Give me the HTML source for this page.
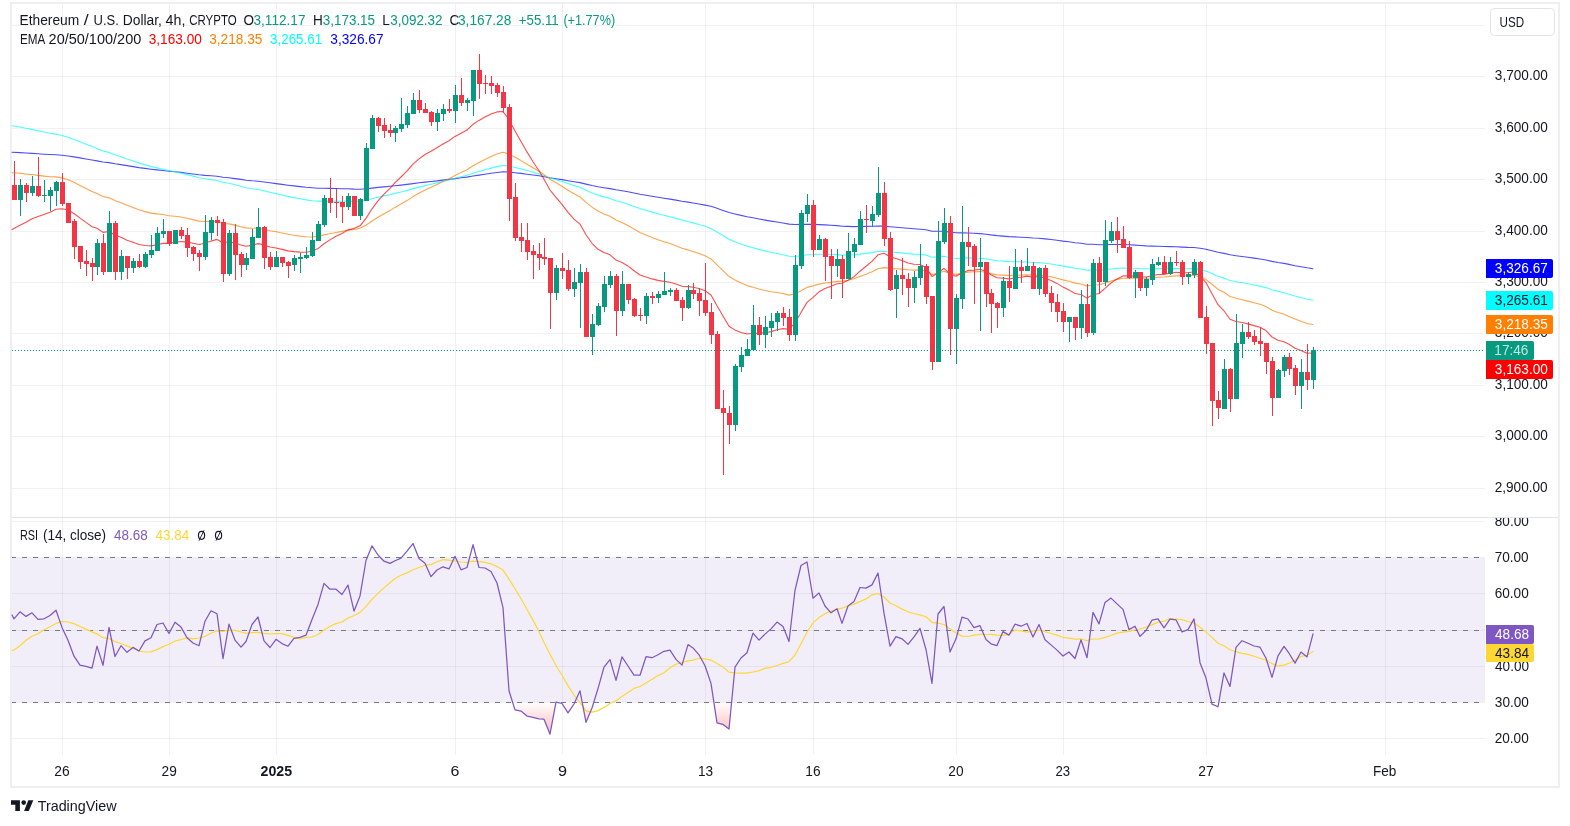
<!DOCTYPE html>
<html><head><meta charset="utf-8"><style>
html,body{margin:0;padding:0;background:#fff;}
body{width:1570px;height:826px;overflow:hidden;position:relative;}
svg{position:absolute;left:0;top:0;font-family:"Liberation Sans", sans-serif;will-change:transform;}
</style></head><body>
<svg width="1570" height="826" viewBox="0 0 1570 826">
<g shape-rendering="crispEdges"><rect x="0" y="0" width="1570" height="826" fill="#fff"/>
<line x1="12" y1="25.5" x2="1485" y2="25.5" stroke="rgba(42,46,57,0.065)" stroke-width="1"/>
<line x1="12" y1="76.5" x2="1485" y2="76.5" stroke="rgba(42,46,57,0.065)" stroke-width="1"/>
<line x1="12" y1="128.5" x2="1485" y2="128.5" stroke="rgba(42,46,57,0.065)" stroke-width="1"/>
<line x1="12" y1="179.5" x2="1485" y2="179.5" stroke="rgba(42,46,57,0.065)" stroke-width="1"/>
<line x1="12" y1="231.5" x2="1485" y2="231.5" stroke="rgba(42,46,57,0.065)" stroke-width="1"/>
<line x1="12" y1="282.5" x2="1485" y2="282.5" stroke="rgba(42,46,57,0.065)" stroke-width="1"/>
<line x1="12" y1="333.5" x2="1485" y2="333.5" stroke="rgba(42,46,57,0.065)" stroke-width="1"/>
<line x1="12" y1="385.5" x2="1485" y2="385.5" stroke="rgba(42,46,57,0.065)" stroke-width="1"/>
<line x1="12" y1="436.5" x2="1485" y2="436.5" stroke="rgba(42,46,57,0.065)" stroke-width="1"/>
<line x1="12" y1="488.5" x2="1485" y2="488.5" stroke="rgba(42,46,57,0.065)" stroke-width="1"/>
<line x1="62.5" y1="4" x2="62.5" y2="755" stroke="rgba(42,46,57,0.065)" stroke-width="1"/>
<line x1="169.5" y1="4" x2="169.5" y2="755" stroke="rgba(42,46,57,0.065)" stroke-width="1"/>
<line x1="276.5" y1="4" x2="276.5" y2="755" stroke="rgba(42,46,57,0.065)" stroke-width="1"/>
<line x1="455.5" y1="4" x2="455.5" y2="755" stroke="rgba(42,46,57,0.065)" stroke-width="1"/>
<line x1="562.5" y1="4" x2="562.5" y2="755" stroke="rgba(42,46,57,0.065)" stroke-width="1"/>
<line x1="705.5" y1="4" x2="705.5" y2="755" stroke="rgba(42,46,57,0.065)" stroke-width="1"/>
<line x1="813.5" y1="4" x2="813.5" y2="755" stroke="rgba(42,46,57,0.065)" stroke-width="1"/>
<line x1="956.5" y1="4" x2="956.5" y2="755" stroke="rgba(42,46,57,0.065)" stroke-width="1"/>
<line x1="1063.5" y1="4" x2="1063.5" y2="755" stroke="rgba(42,46,57,0.065)" stroke-width="1"/>
<line x1="1206.5" y1="4" x2="1206.5" y2="755" stroke="rgba(42,46,57,0.065)" stroke-width="1"/>
<line x1="1385.5" y1="4" x2="1385.5" y2="755" stroke="rgba(42,46,57,0.065)" stroke-width="1"/>
<line x1="12" y1="521.5" x2="1485" y2="521.5" stroke="rgba(42,46,57,0.065)" stroke-width="1"/>
<line x1="12" y1="557.5" x2="1485" y2="557.5" stroke="rgba(42,46,57,0.065)" stroke-width="1"/>
<line x1="12" y1="593.5" x2="1485" y2="593.5" stroke="rgba(42,46,57,0.065)" stroke-width="1"/>
<line x1="12" y1="630.5" x2="1485" y2="630.5" stroke="rgba(42,46,57,0.065)" stroke-width="1"/>
<line x1="12" y1="666.5" x2="1485" y2="666.5" stroke="rgba(42,46,57,0.065)" stroke-width="1"/>
<line x1="12" y1="702.5" x2="1485" y2="702.5" stroke="rgba(42,46,57,0.065)" stroke-width="1"/>
<line x1="12" y1="738.5" x2="1485" y2="738.5" stroke="rgba(42,46,57,0.065)" stroke-width="1"/>
<rect x="12" y="558" width="1473" height="144" fill="#7E57C2" fill-opacity="0.1"/>
<line x1="11" y1="557.5" x2="1485" y2="557.5" stroke="#787B86" stroke-width="1" stroke-dasharray="5 6"/>
<line x1="11" y1="630.5" x2="1485" y2="630.5" stroke="#787B86" stroke-width="1" stroke-dasharray="5 6"/>
<line x1="11" y1="702.5" x2="1485" y2="702.5" stroke="#787B86" stroke-width="1" stroke-dasharray="5 6"/>
<line x1="12" y1="517.5" x2="1558" y2="517.5" stroke="#E0E3EB" stroke-width="1"/>
<rect x="11" y="3" width="1548" height="784" fill="none" stroke="#EDEFF3" stroke-width="2"/></g>
<polyline points="12.0,152.3 20.0,152.6 26.0,153.0 32.0,153.4 38.0,153.8 44.0,154.2 50.0,154.5 56.0,154.8 62.0,155.3 68.0,156.0 74.0,156.9 80.0,157.9 86.0,159.0 92.0,160.0 97.0,160.9 103.0,162.0 109.0,162.6 115.0,163.7 121.0,164.6 127.0,165.6 133.0,166.6 139.0,167.6 145.0,168.4 151.0,169.2 157.0,169.9 163.0,170.5 169.0,171.2 175.0,171.8 181.0,172.4 187.0,173.2 193.0,174.0 199.0,174.8 205.0,175.4 211.0,175.8 217.0,176.3 223.0,177.3 229.0,177.8 235.0,178.6 241.0,179.4 246.0,180.2 252.0,180.8 258.0,181.2 264.0,182.0 270.0,182.8 276.0,183.6 282.0,184.4 288.0,185.2 294.0,185.9 300.0,186.6 306.0,187.3 312.0,187.8 318.0,188.2 324.0,188.3 330.0,188.4 336.0,188.5 342.0,188.7 348.0,188.8 354.0,189.1 360.0,189.2 366.0,188.8 372.0,188.1 378.0,187.4 384.0,186.9 390.0,186.3 395.0,185.8 401.0,185.1 407.0,184.4 413.0,183.6 419.0,182.8 425.0,182.1 431.0,181.5 437.0,180.9 443.0,180.1 449.0,179.4 455.0,178.6 461.0,177.8 467.0,177.1 473.0,176.0 479.0,175.1 485.0,174.2 491.0,173.3 497.0,172.5 503.0,171.8 509.0,172.1 515.0,172.8 521.0,173.4 527.0,174.2 533.0,175.0 539.0,175.8 544.0,176.7 550.0,177.8 556.0,178.7 562.0,179.6 568.0,180.7 574.0,181.7 580.0,182.6 586.0,184.1 592.0,185.5 598.0,186.7 604.0,187.7 610.0,188.6 616.0,189.8 622.0,190.7 628.0,191.8 634.0,193.0 640.0,194.3 646.0,195.3 652.0,196.3 658.0,197.3 664.0,198.2 670.0,199.1 676.0,200.1 682.0,201.2 688.0,202.1 693.0,203.0 699.0,204.0 705.0,205.1 711.0,206.3 717.0,208.3 723.0,210.4 729.0,212.5 735.0,214.0 741.0,215.4 747.0,216.8 753.0,217.8 759.0,219.0 765.0,220.1 771.0,221.1 777.0,222.0 783.0,223.0 789.0,224.1 795.0,224.5 801.0,224.4 807.0,224.2 813.0,224.4 819.0,224.6 825.0,224.9 831.0,225.3 837.0,225.6 842.0,226.2 848.0,226.4 854.0,226.6 860.0,226.5 866.0,226.4 872.0,226.3 878.0,226.0 884.0,226.1 890.0,226.7 896.0,227.2 902.0,227.7 908.0,228.3 914.0,228.8 920.0,229.2 926.0,229.8 932.0,231.2 938.0,231.3 944.0,231.2 950.0,232.1 956.0,232.8 962.0,232.9 968.0,233.0 974.0,233.3 980.0,233.6 986.0,234.2 991.0,234.9 997.0,235.6 1003.0,236.1 1009.0,236.6 1015.0,236.9 1021.0,237.2 1027.0,237.5 1033.0,238.0 1039.0,238.3 1045.0,238.9 1051.0,239.5 1057.0,240.2 1063.0,241.1 1069.0,241.8 1075.0,242.7 1081.0,243.3 1087.0,244.2 1093.0,244.3 1099.0,244.7 1105.0,244.7 1111.0,244.5 1117.0,244.5 1123.0,244.5 1129.0,244.8 1135.0,245.1 1140.0,245.5 1146.0,245.9 1152.0,246.1 1158.0,246.2 1164.0,246.5 1170.0,246.6 1176.0,246.8 1182.0,247.1 1188.0,247.4 1194.0,247.5 1200.0,248.2 1206.0,249.2 1212.0,250.7 1218.0,252.2 1224.0,253.4 1230.0,254.8 1236.0,255.7 1242.0,256.5 1248.0,257.3 1254.0,258.1 1260.0,259.0 1266.0,260.0 1272.0,261.4 1278.0,262.5 1284.0,263.4 1289.0,264.4 1295.0,265.7 1301.0,266.7 1307.0,267.8 1313.0,268.7" fill="none" stroke="#0000FF" stroke-opacity="0.7" stroke-width="1.1" stroke-linejoin="round" stroke-linecap="round"/>
<polyline points="12.0,125.8 20.0,127.0 26.0,128.3 32.0,129.4 38.0,130.7 44.0,132.0 50.0,133.2 56.0,134.1 62.0,135.5 68.0,137.2 74.0,139.4 80.0,141.8 86.0,144.2 92.0,146.6 97.0,148.5 103.0,151.0 109.0,152.4 115.0,154.8 121.0,156.8 127.0,159.0 133.0,161.0 139.0,163.1 145.0,164.9 151.0,166.6 157.0,167.9 163.0,169.2 169.0,170.6 175.0,171.8 181.0,173.1 187.0,174.6 193.0,176.1 199.0,177.7 205.0,178.8 211.0,179.6 217.0,180.5 223.0,182.3 229.0,183.3 235.0,184.7 241.0,186.3 246.0,187.7 252.0,188.7 258.0,189.5 264.0,190.8 270.0,192.3 276.0,193.6 282.0,195.0 288.0,196.4 294.0,197.6 300.0,198.8 306.0,199.9 312.0,200.7 318.0,201.1 324.0,201.1 330.0,201.1 336.0,201.1 342.0,201.2 348.0,201.1 354.0,201.4 360.0,201.4 366.0,200.3 372.0,198.7 378.0,197.3 384.0,195.9 390.0,194.7 395.0,193.4 401.0,192.0 407.0,190.4 413.0,188.6 419.0,187.1 425.0,185.6 431.0,184.3 437.0,182.9 443.0,181.4 449.0,180.0 455.0,178.3 461.0,176.8 467.0,175.3 473.0,173.2 479.0,171.5 485.0,169.7 491.0,168.1 497.0,166.6 503.0,165.4 509.0,166.0 515.0,167.5 521.0,168.9 527.0,170.5 533.0,172.2 539.0,173.9 544.0,175.6 550.0,177.9 556.0,179.7 562.0,181.5 568.0,183.6 574.0,185.6 580.0,187.3 586.0,190.2 592.0,192.9 598.0,195.1 604.0,196.9 610.0,198.4 616.0,200.7 622.0,202.3 628.0,204.2 634.0,206.4 640.0,208.6 646.0,210.3 652.0,212.1 658.0,213.7 664.0,215.2 670.0,216.7 676.0,218.4 682.0,220.1 688.0,221.5 693.0,222.9 699.0,224.5 705.0,226.2 711.0,228.4 717.0,231.9 723.0,235.5 729.0,239.3 735.0,241.8 741.0,244.0 747.0,246.1 753.0,247.7 759.0,249.4 765.0,250.9 771.0,252.3 777.0,253.5 783.0,254.8 789.0,256.3 795.0,256.5 801.0,255.7 807.0,254.7 813.0,254.6 819.0,254.3 825.0,254.3 831.0,254.5 837.0,254.6 842.0,255.1 848.0,255.0 854.0,254.8 860.0,254.1 866.0,253.4 872.0,252.6 878.0,251.5 884.0,251.2 890.0,252.0 896.0,252.4 902.0,252.9 908.0,253.6 914.0,254.1 920.0,254.3 926.0,255.1 932.0,257.2 938.0,256.9 944.0,256.2 950.0,257.7 956.0,258.5 962.0,258.1 968.0,257.9 974.0,258.1 980.0,258.2 986.0,258.9 991.0,259.7 997.0,260.7 1003.0,261.1 1009.0,261.6 1015.0,261.7 1021.0,261.9 1027.0,262.0 1033.0,262.5 1039.0,262.6 1045.0,263.2 1051.0,264.0 1057.0,265.0 1063.0,266.1 1069.0,267.1 1075.0,268.3 1081.0,269.0 1087.0,270.3 1093.0,270.1 1099.0,270.3 1105.0,269.7 1111.0,269.0 1117.0,268.4 1123.0,268.0 1129.0,268.2 1135.0,268.3 1140.0,268.6 1146.0,268.8 1152.0,268.8 1158.0,268.6 1164.0,268.7 1170.0,268.6 1176.0,268.5 1182.0,268.6 1188.0,268.7 1194.0,268.6 1200.0,269.6 1206.0,271.1 1212.0,273.6 1218.0,276.3 1224.0,278.1 1230.0,280.5 1236.0,281.7 1242.0,282.7 1248.0,283.8 1254.0,285.0 1260.0,286.1 1266.0,287.6 1272.0,289.8 1278.0,291.4 1284.0,292.7 1289.0,294.2 1295.0,296.0 1301.0,297.5 1307.0,299.2 1313.0,300.2" fill="none" stroke="#00FFFF" stroke-opacity="0.7" stroke-width="1.1" stroke-linejoin="round" stroke-linecap="round"/>
<polyline points="12.0,172.8 20.0,173.3 26.0,174.1 32.0,174.5 38.0,175.4 44.0,176.1 50.0,176.7 56.0,176.9 62.0,177.9 68.0,179.7 74.0,182.3 80.0,185.4 86.0,188.5 92.0,191.5 97.0,193.6 103.0,196.6 109.0,197.7 115.0,200.6 121.0,202.7 127.0,205.3 133.0,207.5 139.0,209.8 145.0,211.6 151.0,213.1 157.0,213.9 163.0,214.5 169.0,215.7 175.0,216.2 181.0,217.0 187.0,218.2 193.0,219.6 199.0,221.1 205.0,221.5 211.0,221.4 217.0,221.5 223.0,223.5 229.0,223.9 235.0,225.1 241.0,226.7 246.0,227.9 252.0,228.3 258.0,228.2 264.0,229.3 270.0,230.8 276.0,231.8 282.0,233.0 288.0,234.3 294.0,235.2 300.0,236.1 306.0,236.8 312.0,237.0 318.0,236.4 324.0,234.9 330.0,233.7 336.0,232.5 342.0,231.4 348.0,230.1 354.0,229.5 360.0,228.3 366.0,225.2 372.0,221.0 378.0,217.2 384.0,213.8 390.0,210.6 395.0,207.4 401.0,204.1 407.0,200.6 413.0,196.6 419.0,193.2 425.0,190.0 431.0,187.3 437.0,184.4 443.0,181.5 449.0,178.7 455.0,175.4 461.0,172.5 467.0,169.7 473.0,165.8 479.0,162.5 485.0,159.5 491.0,156.6 497.0,154.1 503.0,152.2 509.0,154.0 515.0,157.3 521.0,160.6 527.0,164.2 533.0,167.7 539.0,171.2 544.0,174.6 550.0,179.3 556.0,182.7 562.0,186.2 568.0,190.2 574.0,193.8 580.0,196.9 586.0,202.4 592.0,207.1 598.0,211.0 604.0,213.9 610.0,216.3 616.0,220.0 622.0,222.5 628.0,225.5 634.0,229.1 640.0,232.5 646.0,235.0 652.0,237.4 658.0,239.7 664.0,241.7 670.0,243.6 676.0,245.8 682.0,248.2 688.0,249.9 693.0,251.6 699.0,253.5 705.0,255.8 711.0,258.9 717.0,264.8 723.0,270.6 729.0,276.6 735.0,280.1 741.0,283.1 747.0,285.6 753.0,287.2 759.0,289.0 765.0,290.5 771.0,291.7 777.0,292.5 783.0,293.5 789.0,295.1 795.0,293.9 801.0,290.8 807.0,287.4 813.0,285.9 819.0,284.1 825.0,283.0 831.0,282.4 837.0,281.4 842.0,281.3 848.0,280.2 854.0,278.7 860.0,276.4 866.0,274.2 872.0,271.8 878.0,268.7 884.0,267.6 890.0,268.4 896.0,268.7 902.0,269.1 908.0,269.8 914.0,270.1 920.0,269.9 926.0,270.9 932.0,274.5 938.0,273.2 944.0,271.2 950.0,273.4 956.0,274.4 962.0,273.1 968.0,272.1 974.0,271.8 980.0,271.5 986.0,272.3 991.0,273.6 997.0,274.9 1003.0,275.1 1009.0,275.6 1015.0,275.3 1021.0,275.1 1027.0,274.7 1033.0,275.3 1039.0,275.0 1045.0,275.7 1051.0,276.8 1057.0,278.2 1063.0,279.9 1069.0,281.3 1075.0,283.1 1081.0,284.0 1087.0,285.9 1093.0,285.0 1099.0,284.8 1105.0,283.1 1111.0,281.0 1117.0,279.4 1123.0,278.2 1129.0,278.1 1135.0,277.9 1140.0,278.3 1146.0,278.3 1152.0,277.8 1158.0,277.2 1164.0,277.0 1170.0,276.4 1176.0,275.9 1182.0,275.9 1188.0,275.9 1194.0,275.3 1200.0,277.0 1206.0,279.6 1212.0,284.3 1218.0,289.2 1224.0,292.3 1230.0,296.5 1236.0,298.3 1242.0,299.7 1248.0,301.1 1254.0,302.7 1260.0,304.3 1266.0,306.6 1272.0,310.2 1278.0,312.5 1284.0,314.3 1289.0,316.4 1295.0,319.1 1301.0,321.2 1307.0,323.5 1313.0,324.5" fill="none" stroke="#FF7F00" stroke-opacity="0.7" stroke-width="1.1" stroke-linejoin="round" stroke-linecap="round"/>
<polyline points="12.0,229.5 20.0,225.3 26.0,222.2 32.0,218.7 38.0,216.6 44.0,214.5 50.0,212.2 56.0,209.3 62.0,208.8 68.0,210.0 74.0,213.5 80.0,218.1 86.0,222.4 92.0,226.7 97.0,228.2 103.0,232.4 109.0,231.5 115.0,235.3 121.0,237.3 127.0,240.2 133.0,242.2 139.0,244.5 145.0,245.5 151.0,245.9 157.0,244.7 163.0,243.4 169.0,243.4 175.0,242.2 181.0,241.5 187.0,242.1 193.0,243.2 199.0,244.5 205.0,243.3 211.0,241.1 217.0,239.4 223.0,242.7 229.0,241.7 235.0,243.0 241.0,245.0 246.0,246.3 252.0,245.4 258.0,243.6 264.0,244.9 270.0,247.0 276.0,248.0 282.0,249.4 288.0,250.9 294.0,251.6 300.0,252.1 306.0,252.3 312.0,251.2 318.0,248.6 324.0,243.8 330.0,239.9 336.0,236.3 342.0,233.5 348.0,229.9 354.0,228.6 360.0,225.8 366.0,218.4 372.0,208.8 378.0,200.9 384.0,194.2 390.0,188.3 395.0,182.6 401.0,177.0 407.0,170.9 413.0,164.1 419.0,158.9 425.0,154.5 431.0,151.3 437.0,147.7 443.0,144.0 449.0,140.8 455.0,136.4 461.0,133.2 467.0,130.0 473.0,124.3 479.0,120.4 485.0,117.0 491.0,114.0 497.0,111.9 503.0,111.5 509.0,119.8 515.0,131.0 521.0,141.4 527.0,151.9 533.0,161.7 539.0,170.8 544.0,179.2 550.0,190.0 556.0,197.4 562.0,204.4 568.0,212.4 574.0,219.1 580.0,224.1 586.0,234.8 592.0,243.3 598.0,249.3 604.0,252.6 610.0,254.8 616.0,260.1 622.0,262.4 628.0,265.9 634.0,270.7 640.0,275.0 646.0,277.0 652.0,278.9 658.0,280.4 664.0,281.4 670.0,282.2 676.0,284.0 682.0,286.2 688.0,286.6 693.0,287.3 699.0,288.5 705.0,290.8 711.0,295.0 717.0,305.8 723.0,316.0 729.0,326.3 735.0,330.1 741.0,332.5 747.0,334.0 753.0,333.2 759.0,333.3 765.0,332.7 771.0,331.6 777.0,329.8 783.0,328.6 789.0,329.2 795.0,323.1 801.0,312.6 807.0,302.4 813.0,297.3 819.0,291.8 825.0,288.4 831.0,286.3 837.0,283.7 842.0,283.2 848.0,280.2 854.0,276.7 860.0,271.2 866.0,266.3 872.0,261.4 878.0,254.8 884.0,253.3 890.0,256.7 896.0,258.5 902.0,260.4 908.0,263.0 914.0,264.3 920.0,264.5 926.0,267.5 932.0,276.4 938.0,273.0 944.0,268.3 950.0,274.0 956.0,276.3 962.0,273.0 968.0,270.4 974.0,270.1 980.0,269.3 986.0,271.6 991.0,274.7 997.0,277.8 1003.0,278.1 1009.0,279.0 1015.0,277.9 1021.0,277.2 1027.0,276.1 1033.0,277.3 1039.0,276.4 1045.0,278.0 1051.0,280.4 1057.0,283.4 1063.0,287.1 1069.0,289.9 1075.0,293.5 1081.0,294.5 1087.0,298.1 1093.0,294.8 1099.0,293.5 1105.0,288.4 1111.0,283.0 1117.0,278.9 1123.0,275.9 1129.0,276.0 1135.0,275.7 1140.0,276.8 1146.0,277.0 1152.0,275.8 1158.0,274.5 1164.0,274.4 1170.0,273.2 1176.0,272.3 1182.0,272.7 1188.0,272.8 1194.0,271.8 1200.0,276.2 1206.0,282.6 1212.0,293.8 1218.0,304.7 1224.0,310.8 1230.0,319.2 1236.0,321.5 1242.0,322.5 1248.0,323.9 1254.0,325.6 1260.0,327.3 1266.0,330.6 1272.0,337.0 1278.0,340.2 1284.0,341.8 1289.0,344.3 1295.0,348.3 1301.0,350.5 1307.0,353.3 1313.0,353.0" fill="none" stroke="#FF0000" stroke-opacity="0.7" stroke-width="1.1" stroke-linejoin="round" stroke-linecap="round"/>
<g shape-rendering="crispEdges"><rect x="14" y="161" width="1" height="39" fill="#F23645"/>
<rect x="12" y="185" width="5" height="15" fill="#F23645"/>
<rect x="20" y="179" width="1" height="37" fill="#089981"/>
<rect x="18" y="185" width="5" height="15" fill="#089981"/>
<rect x="26" y="183" width="1" height="19" fill="#F23645"/>
<rect x="24" y="185" width="5" height="8" fill="#F23645"/>
<rect x="32" y="176" width="1" height="20" fill="#089981"/>
<rect x="30" y="186" width="5" height="7" fill="#089981"/>
<rect x="38" y="157" width="1" height="40" fill="#F23645"/>
<rect x="36" y="186" width="5" height="10" fill="#F23645"/>
<rect x="44" y="180" width="1" height="22" fill="#089981"/>
<rect x="42" y="195" width="5" height="1" fill="#089981"/>
<rect x="50" y="187" width="1" height="24" fill="#089981"/>
<rect x="48" y="190" width="5" height="6" fill="#089981"/>
<rect x="56" y="181" width="1" height="25" fill="#089981"/>
<rect x="54" y="182" width="5" height="9" fill="#089981"/>
<rect x="62" y="173" width="1" height="33" fill="#F23645"/>
<rect x="60" y="182" width="5" height="22" fill="#F23645"/>
<rect x="68" y="203" width="1" height="20" fill="#F23645"/>
<rect x="66" y="203" width="5" height="20" fill="#F23645"/>
<rect x="74" y="219" width="1" height="40" fill="#F23645"/>
<rect x="72" y="221" width="5" height="26" fill="#F23645"/>
<rect x="80" y="246" width="1" height="23" fill="#F23645"/>
<rect x="78" y="246" width="5" height="16" fill="#F23645"/>
<rect x="86" y="250" width="1" height="26" fill="#F23645"/>
<rect x="84" y="261" width="5" height="3" fill="#F23645"/>
<rect x="92" y="258" width="1" height="23" fill="#F23645"/>
<rect x="90" y="263" width="5" height="4" fill="#F23645"/>
<rect x="97" y="239" width="1" height="36" fill="#089981"/>
<rect x="95" y="243" width="5" height="24" fill="#089981"/>
<rect x="103" y="234" width="1" height="41" fill="#F23645"/>
<rect x="101" y="243" width="5" height="29" fill="#F23645"/>
<rect x="109" y="211" width="1" height="61" fill="#089981"/>
<rect x="107" y="223" width="5" height="49" fill="#089981"/>
<rect x="115" y="221" width="1" height="59" fill="#F23645"/>
<rect x="113" y="223" width="5" height="49" fill="#F23645"/>
<rect x="121" y="250" width="1" height="30" fill="#089981"/>
<rect x="119" y="256" width="5" height="16" fill="#089981"/>
<rect x="127" y="256" width="1" height="23" fill="#F23645"/>
<rect x="125" y="256" width="5" height="12" fill="#F23645"/>
<rect x="133" y="258" width="1" height="15" fill="#089981"/>
<rect x="131" y="261" width="5" height="7" fill="#089981"/>
<rect x="139" y="254" width="1" height="14" fill="#F23645"/>
<rect x="137" y="261" width="5" height="6" fill="#F23645"/>
<rect x="145" y="252" width="1" height="16" fill="#089981"/>
<rect x="143" y="254" width="5" height="13" fill="#089981"/>
<rect x="151" y="235" width="1" height="23" fill="#089981"/>
<rect x="149" y="250" width="5" height="5" fill="#089981"/>
<rect x="157" y="227" width="1" height="24" fill="#089981"/>
<rect x="155" y="233" width="5" height="18" fill="#089981"/>
<rect x="163" y="219" width="1" height="19" fill="#089981"/>
<rect x="161" y="231" width="5" height="3" fill="#089981"/>
<rect x="169" y="231" width="1" height="15" fill="#F23645"/>
<rect x="167" y="231" width="5" height="13" fill="#F23645"/>
<rect x="175" y="230" width="1" height="14" fill="#089981"/>
<rect x="173" y="230" width="5" height="14" fill="#089981"/>
<rect x="181" y="227" width="1" height="12" fill="#F23645"/>
<rect x="179" y="230" width="5" height="6" fill="#F23645"/>
<rect x="187" y="228" width="1" height="29" fill="#F23645"/>
<rect x="185" y="235" width="5" height="13" fill="#F23645"/>
<rect x="193" y="246" width="1" height="15" fill="#F23645"/>
<rect x="191" y="247" width="5" height="7" fill="#F23645"/>
<rect x="199" y="250" width="1" height="21" fill="#F23645"/>
<rect x="197" y="253" width="5" height="4" fill="#F23645"/>
<rect x="205" y="215" width="1" height="45" fill="#089981"/>
<rect x="203" y="232" width="5" height="25" fill="#089981"/>
<rect x="211" y="217" width="1" height="23" fill="#089981"/>
<rect x="209" y="220" width="5" height="13" fill="#089981"/>
<rect x="217" y="216" width="1" height="20" fill="#F23645"/>
<rect x="215" y="220" width="5" height="3" fill="#F23645"/>
<rect x="223" y="219" width="1" height="63" fill="#F23645"/>
<rect x="221" y="222" width="5" height="52" fill="#F23645"/>
<rect x="229" y="230" width="1" height="46" fill="#089981"/>
<rect x="227" y="233" width="5" height="41" fill="#089981"/>
<rect x="235" y="224" width="1" height="56" fill="#F23645"/>
<rect x="233" y="233" width="5" height="22" fill="#F23645"/>
<rect x="241" y="252" width="1" height="25" fill="#F23645"/>
<rect x="239" y="254" width="5" height="11" fill="#F23645"/>
<rect x="246" y="253" width="1" height="17" fill="#089981"/>
<rect x="244" y="258" width="5" height="7" fill="#089981"/>
<rect x="252" y="229" width="1" height="30" fill="#089981"/>
<rect x="250" y="237" width="5" height="22" fill="#089981"/>
<rect x="258" y="208" width="1" height="30" fill="#089981"/>
<rect x="256" y="227" width="5" height="11" fill="#089981"/>
<rect x="264" y="226" width="1" height="43" fill="#F23645"/>
<rect x="262" y="227" width="5" height="31" fill="#F23645"/>
<rect x="270" y="252" width="1" height="18" fill="#F23645"/>
<rect x="268" y="257" width="5" height="10" fill="#F23645"/>
<rect x="276" y="251" width="1" height="16" fill="#089981"/>
<rect x="274" y="257" width="5" height="10" fill="#089981"/>
<rect x="282" y="257" width="1" height="10" fill="#F23645"/>
<rect x="280" y="257" width="5" height="6" fill="#F23645"/>
<rect x="288" y="261" width="1" height="17" fill="#F23645"/>
<rect x="286" y="262" width="5" height="4" fill="#F23645"/>
<rect x="294" y="255" width="1" height="16" fill="#089981"/>
<rect x="292" y="258" width="5" height="7" fill="#089981"/>
<rect x="300" y="253" width="1" height="20" fill="#089981"/>
<rect x="298" y="257" width="5" height="2" fill="#089981"/>
<rect x="306" y="247" width="1" height="12" fill="#089981"/>
<rect x="304" y="255" width="5" height="3" fill="#089981"/>
<rect x="312" y="232" width="1" height="25" fill="#089981"/>
<rect x="310" y="240" width="5" height="16" fill="#089981"/>
<rect x="318" y="221" width="1" height="20" fill="#089981"/>
<rect x="316" y="224" width="5" height="17" fill="#089981"/>
<rect x="324" y="195" width="1" height="32" fill="#089981"/>
<rect x="322" y="198" width="5" height="27" fill="#089981"/>
<rect x="330" y="178" width="1" height="35" fill="#F23645"/>
<rect x="328" y="198" width="5" height="5" fill="#F23645"/>
<rect x="336" y="189" width="1" height="29" fill="#F23645"/>
<rect x="334" y="202" width="5" height="1" fill="#F23645"/>
<rect x="342" y="196" width="1" height="27" fill="#F23645"/>
<rect x="340" y="202" width="5" height="5" fill="#F23645"/>
<rect x="348" y="193" width="1" height="17" fill="#089981"/>
<rect x="346" y="196" width="5" height="11" fill="#089981"/>
<rect x="354" y="196" width="1" height="20" fill="#F23645"/>
<rect x="352" y="196" width="5" height="20" fill="#F23645"/>
<rect x="360" y="198" width="1" height="22" fill="#089981"/>
<rect x="358" y="199" width="5" height="17" fill="#089981"/>
<rect x="366" y="143" width="1" height="58" fill="#089981"/>
<rect x="364" y="148" width="5" height="53" fill="#089981"/>
<rect x="372" y="115" width="1" height="34" fill="#089981"/>
<rect x="370" y="118" width="5" height="31" fill="#089981"/>
<rect x="378" y="117" width="1" height="15" fill="#F23645"/>
<rect x="376" y="118" width="5" height="8" fill="#F23645"/>
<rect x="384" y="118" width="1" height="20" fill="#F23645"/>
<rect x="382" y="125" width="5" height="6" fill="#F23645"/>
<rect x="390" y="124" width="1" height="13" fill="#F23645"/>
<rect x="388" y="130" width="5" height="3" fill="#F23645"/>
<rect x="395" y="126" width="1" height="16" fill="#089981"/>
<rect x="393" y="128" width="5" height="5" fill="#089981"/>
<rect x="401" y="98" width="1" height="34" fill="#089981"/>
<rect x="399" y="124" width="5" height="5" fill="#089981"/>
<rect x="407" y="106" width="1" height="22" fill="#089981"/>
<rect x="405" y="113" width="5" height="12" fill="#089981"/>
<rect x="413" y="93" width="1" height="21" fill="#089981"/>
<rect x="411" y="100" width="5" height="14" fill="#089981"/>
<rect x="419" y="90" width="1" height="23" fill="#F23645"/>
<rect x="417" y="100" width="5" height="10" fill="#F23645"/>
<rect x="425" y="103" width="1" height="10" fill="#F23645"/>
<rect x="423" y="109" width="5" height="4" fill="#F23645"/>
<rect x="431" y="111" width="1" height="15" fill="#F23645"/>
<rect x="429" y="112" width="5" height="10" fill="#F23645"/>
<rect x="437" y="109" width="1" height="22" fill="#089981"/>
<rect x="435" y="113" width="5" height="9" fill="#089981"/>
<rect x="443" y="104" width="1" height="17" fill="#089981"/>
<rect x="441" y="109" width="5" height="5" fill="#089981"/>
<rect x="449" y="99" width="1" height="14" fill="#F23645"/>
<rect x="447" y="109" width="5" height="2" fill="#F23645"/>
<rect x="455" y="85" width="1" height="38" fill="#089981"/>
<rect x="453" y="95" width="5" height="16" fill="#089981"/>
<rect x="461" y="78" width="1" height="28" fill="#F23645"/>
<rect x="459" y="95" width="5" height="8" fill="#F23645"/>
<rect x="467" y="98" width="1" height="13" fill="#089981"/>
<rect x="465" y="100" width="5" height="3" fill="#089981"/>
<rect x="473" y="70" width="1" height="46" fill="#089981"/>
<rect x="471" y="70" width="5" height="31" fill="#089981"/>
<rect x="479" y="54" width="1" height="45" fill="#F23645"/>
<rect x="477" y="70" width="5" height="14" fill="#F23645"/>
<rect x="485" y="75" width="1" height="19" fill="#F23645"/>
<rect x="483" y="83" width="5" height="1" fill="#F23645"/>
<rect x="491" y="76" width="1" height="18" fill="#F23645"/>
<rect x="489" y="83" width="5" height="3" fill="#F23645"/>
<rect x="497" y="83" width="1" height="14" fill="#F23645"/>
<rect x="495" y="85" width="5" height="8" fill="#F23645"/>
<rect x="503" y="86" width="1" height="27" fill="#F23645"/>
<rect x="501" y="92" width="5" height="16" fill="#F23645"/>
<rect x="509" y="104" width="1" height="117" fill="#F23645"/>
<rect x="507" y="107" width="5" height="92" fill="#F23645"/>
<rect x="515" y="183" width="1" height="58" fill="#F23645"/>
<rect x="513" y="197" width="5" height="41" fill="#F23645"/>
<rect x="521" y="223" width="1" height="29" fill="#F23645"/>
<rect x="519" y="237" width="5" height="4" fill="#F23645"/>
<rect x="527" y="223" width="1" height="37" fill="#F23645"/>
<rect x="525" y="240" width="5" height="12" fill="#F23645"/>
<rect x="533" y="245" width="1" height="34" fill="#F23645"/>
<rect x="531" y="251" width="5" height="4" fill="#F23645"/>
<rect x="539" y="243" width="1" height="27" fill="#F23645"/>
<rect x="537" y="254" width="5" height="4" fill="#F23645"/>
<rect x="544" y="238" width="1" height="27" fill="#F23645"/>
<rect x="542" y="257" width="5" height="2" fill="#F23645"/>
<rect x="550" y="258" width="1" height="71" fill="#F23645"/>
<rect x="548" y="258" width="5" height="35" fill="#F23645"/>
<rect x="556" y="265" width="1" height="35" fill="#089981"/>
<rect x="554" y="268" width="5" height="25" fill="#089981"/>
<rect x="562" y="253" width="1" height="26" fill="#F23645"/>
<rect x="560" y="268" width="5" height="3" fill="#F23645"/>
<rect x="568" y="260" width="1" height="31" fill="#F23645"/>
<rect x="566" y="270" width="5" height="19" fill="#F23645"/>
<rect x="574" y="268" width="1" height="29" fill="#089981"/>
<rect x="572" y="282" width="5" height="7" fill="#089981"/>
<rect x="580" y="264" width="1" height="64" fill="#089981"/>
<rect x="578" y="272" width="5" height="11" fill="#089981"/>
<rect x="586" y="268" width="1" height="69" fill="#F23645"/>
<rect x="584" y="272" width="5" height="65" fill="#F23645"/>
<rect x="592" y="314" width="1" height="41" fill="#089981"/>
<rect x="590" y="324" width="5" height="13" fill="#089981"/>
<rect x="598" y="303" width="1" height="23" fill="#089981"/>
<rect x="596" y="306" width="5" height="19" fill="#089981"/>
<rect x="604" y="276" width="1" height="36" fill="#089981"/>
<rect x="602" y="284" width="5" height="23" fill="#089981"/>
<rect x="610" y="271" width="1" height="17" fill="#089981"/>
<rect x="608" y="276" width="5" height="9" fill="#089981"/>
<rect x="616" y="274" width="1" height="62" fill="#F23645"/>
<rect x="614" y="276" width="5" height="35" fill="#F23645"/>
<rect x="622" y="271" width="1" height="45" fill="#089981"/>
<rect x="620" y="284" width="5" height="27" fill="#089981"/>
<rect x="628" y="284" width="1" height="20" fill="#F23645"/>
<rect x="626" y="284" width="5" height="16" fill="#F23645"/>
<rect x="634" y="298" width="1" height="19" fill="#F23645"/>
<rect x="632" y="299" width="5" height="17" fill="#F23645"/>
<rect x="640" y="308" width="1" height="13" fill="#F23645"/>
<rect x="638" y="315" width="5" height="1" fill="#F23645"/>
<rect x="646" y="293" width="1" height="31" fill="#089981"/>
<rect x="644" y="296" width="5" height="20" fill="#089981"/>
<rect x="652" y="292" width="1" height="12" fill="#F23645"/>
<rect x="650" y="296" width="5" height="2" fill="#F23645"/>
<rect x="658" y="291" width="1" height="12" fill="#089981"/>
<rect x="656" y="294" width="5" height="4" fill="#089981"/>
<rect x="664" y="272" width="1" height="23" fill="#089981"/>
<rect x="662" y="291" width="5" height="4" fill="#089981"/>
<rect x="670" y="288" width="1" height="8" fill="#089981"/>
<rect x="668" y="290" width="5" height="2" fill="#089981"/>
<rect x="676" y="288" width="1" height="13" fill="#F23645"/>
<rect x="674" y="290" width="5" height="11" fill="#F23645"/>
<rect x="682" y="297" width="1" height="24" fill="#F23645"/>
<rect x="680" y="300" width="5" height="8" fill="#F23645"/>
<rect x="688" y="285" width="1" height="24" fill="#089981"/>
<rect x="686" y="290" width="5" height="18" fill="#089981"/>
<rect x="693" y="283" width="1" height="16" fill="#F23645"/>
<rect x="691" y="290" width="5" height="4" fill="#F23645"/>
<rect x="699" y="288" width="1" height="28" fill="#F23645"/>
<rect x="697" y="293" width="5" height="8" fill="#F23645"/>
<rect x="705" y="263" width="1" height="53" fill="#F23645"/>
<rect x="703" y="300" width="5" height="13" fill="#F23645"/>
<rect x="711" y="303" width="1" height="41" fill="#F23645"/>
<rect x="709" y="312" width="5" height="23" fill="#F23645"/>
<rect x="717" y="331" width="1" height="78" fill="#F23645"/>
<rect x="715" y="334" width="5" height="75" fill="#F23645"/>
<rect x="723" y="390" width="1" height="85" fill="#F23645"/>
<rect x="721" y="408" width="5" height="5" fill="#F23645"/>
<rect x="729" y="406" width="1" height="38" fill="#F23645"/>
<rect x="727" y="413" width="5" height="12" fill="#F23645"/>
<rect x="735" y="364" width="1" height="67" fill="#089981"/>
<rect x="733" y="366" width="5" height="59" fill="#089981"/>
<rect x="741" y="347" width="1" height="25" fill="#089981"/>
<rect x="739" y="355" width="5" height="12" fill="#089981"/>
<rect x="747" y="339" width="1" height="17" fill="#089981"/>
<rect x="745" y="349" width="5" height="7" fill="#089981"/>
<rect x="753" y="305" width="1" height="45" fill="#089981"/>
<rect x="751" y="325" width="5" height="25" fill="#089981"/>
<rect x="759" y="317" width="1" height="28" fill="#F23645"/>
<rect x="757" y="325" width="5" height="10" fill="#F23645"/>
<rect x="765" y="316" width="1" height="32" fill="#089981"/>
<rect x="763" y="327" width="5" height="8" fill="#089981"/>
<rect x="771" y="313" width="1" height="24" fill="#089981"/>
<rect x="769" y="321" width="5" height="7" fill="#089981"/>
<rect x="777" y="311" width="1" height="20" fill="#089981"/>
<rect x="775" y="313" width="5" height="9" fill="#089981"/>
<rect x="783" y="307" width="1" height="19" fill="#F23645"/>
<rect x="781" y="313" width="5" height="5" fill="#F23645"/>
<rect x="789" y="309" width="1" height="32" fill="#F23645"/>
<rect x="787" y="317" width="5" height="18" fill="#F23645"/>
<rect x="795" y="255" width="1" height="86" fill="#089981"/>
<rect x="793" y="265" width="5" height="70" fill="#089981"/>
<rect x="801" y="210" width="1" height="59" fill="#089981"/>
<rect x="799" y="213" width="5" height="53" fill="#089981"/>
<rect x="807" y="194" width="1" height="28" fill="#089981"/>
<rect x="805" y="205" width="5" height="9" fill="#089981"/>
<rect x="813" y="200" width="1" height="57" fill="#F23645"/>
<rect x="811" y="205" width="5" height="45" fill="#F23645"/>
<rect x="819" y="235" width="1" height="15" fill="#089981"/>
<rect x="817" y="239" width="5" height="11" fill="#089981"/>
<rect x="825" y="238" width="1" height="43" fill="#F23645"/>
<rect x="823" y="239" width="5" height="18" fill="#F23645"/>
<rect x="831" y="249" width="1" height="50" fill="#F23645"/>
<rect x="829" y="256" width="5" height="10" fill="#F23645"/>
<rect x="837" y="249" width="1" height="28" fill="#089981"/>
<rect x="835" y="259" width="5" height="7" fill="#089981"/>
<rect x="842" y="255" width="1" height="43" fill="#F23645"/>
<rect x="840" y="259" width="5" height="20" fill="#F23645"/>
<rect x="848" y="233" width="1" height="46" fill="#089981"/>
<rect x="846" y="251" width="5" height="28" fill="#089981"/>
<rect x="854" y="238" width="1" height="20" fill="#089981"/>
<rect x="852" y="244" width="5" height="8" fill="#089981"/>
<rect x="860" y="211" width="1" height="34" fill="#089981"/>
<rect x="858" y="219" width="5" height="26" fill="#089981"/>
<rect x="866" y="205" width="1" height="28" fill="#F23645"/>
<rect x="864" y="219" width="5" height="1" fill="#F23645"/>
<rect x="872" y="206" width="1" height="21" fill="#089981"/>
<rect x="870" y="214" width="5" height="7" fill="#089981"/>
<rect x="878" y="167" width="1" height="50" fill="#089981"/>
<rect x="876" y="193" width="5" height="22" fill="#089981"/>
<rect x="884" y="182" width="1" height="64" fill="#F23645"/>
<rect x="882" y="193" width="5" height="46" fill="#F23645"/>
<rect x="890" y="232" width="1" height="59" fill="#F23645"/>
<rect x="888" y="238" width="5" height="52" fill="#F23645"/>
<rect x="896" y="270" width="1" height="48" fill="#089981"/>
<rect x="894" y="275" width="5" height="14" fill="#089981"/>
<rect x="902" y="258" width="1" height="37" fill="#F23645"/>
<rect x="900" y="275" width="5" height="4" fill="#F23645"/>
<rect x="908" y="273" width="1" height="34" fill="#F23645"/>
<rect x="906" y="279" width="5" height="9" fill="#F23645"/>
<rect x="914" y="271" width="1" height="32" fill="#089981"/>
<rect x="912" y="277" width="5" height="11" fill="#089981"/>
<rect x="920" y="244" width="1" height="41" fill="#089981"/>
<rect x="918" y="266" width="5" height="12" fill="#089981"/>
<rect x="926" y="264" width="1" height="40" fill="#F23645"/>
<rect x="924" y="266" width="5" height="31" fill="#F23645"/>
<rect x="932" y="296" width="1" height="74" fill="#F23645"/>
<rect x="930" y="296" width="5" height="66" fill="#F23645"/>
<rect x="938" y="221" width="1" height="141" fill="#089981"/>
<rect x="936" y="241" width="5" height="121" fill="#089981"/>
<rect x="944" y="208" width="1" height="36" fill="#089981"/>
<rect x="942" y="223" width="5" height="19" fill="#089981"/>
<rect x="950" y="216" width="1" height="139" fill="#F23645"/>
<rect x="948" y="223" width="5" height="106" fill="#F23645"/>
<rect x="956" y="294" width="1" height="70" fill="#089981"/>
<rect x="954" y="298" width="5" height="31" fill="#089981"/>
<rect x="962" y="206" width="1" height="103" fill="#089981"/>
<rect x="960" y="242" width="5" height="57" fill="#089981"/>
<rect x="968" y="227" width="1" height="39" fill="#F23645"/>
<rect x="966" y="242" width="5" height="5" fill="#F23645"/>
<rect x="974" y="244" width="1" height="60" fill="#F23645"/>
<rect x="972" y="246" width="5" height="21" fill="#F23645"/>
<rect x="980" y="238" width="1" height="93" fill="#089981"/>
<rect x="978" y="262" width="5" height="5" fill="#089981"/>
<rect x="986" y="262" width="1" height="45" fill="#F23645"/>
<rect x="984" y="262" width="5" height="32" fill="#F23645"/>
<rect x="991" y="289" width="1" height="44" fill="#F23645"/>
<rect x="989" y="293" width="5" height="11" fill="#F23645"/>
<rect x="997" y="302" width="1" height="26" fill="#F23645"/>
<rect x="995" y="303" width="5" height="5" fill="#F23645"/>
<rect x="1003" y="277" width="1" height="40" fill="#089981"/>
<rect x="1001" y="281" width="5" height="27" fill="#089981"/>
<rect x="1009" y="266" width="1" height="36" fill="#F23645"/>
<rect x="1007" y="281" width="5" height="7" fill="#F23645"/>
<rect x="1015" y="249" width="1" height="40" fill="#089981"/>
<rect x="1013" y="267" width="5" height="22" fill="#089981"/>
<rect x="1021" y="260" width="1" height="23" fill="#F23645"/>
<rect x="1019" y="267" width="5" height="4" fill="#F23645"/>
<rect x="1027" y="248" width="1" height="23" fill="#089981"/>
<rect x="1025" y="266" width="5" height="5" fill="#089981"/>
<rect x="1033" y="262" width="1" height="27" fill="#F23645"/>
<rect x="1031" y="266" width="5" height="23" fill="#F23645"/>
<rect x="1039" y="267" width="1" height="28" fill="#089981"/>
<rect x="1037" y="268" width="5" height="21" fill="#089981"/>
<rect x="1045" y="265" width="1" height="32" fill="#F23645"/>
<rect x="1043" y="268" width="5" height="26" fill="#F23645"/>
<rect x="1051" y="286" width="1" height="26" fill="#F23645"/>
<rect x="1049" y="293" width="5" height="10" fill="#F23645"/>
<rect x="1057" y="294" width="1" height="28" fill="#F23645"/>
<rect x="1055" y="302" width="5" height="10" fill="#F23645"/>
<rect x="1063" y="303" width="1" height="29" fill="#F23645"/>
<rect x="1061" y="311" width="5" height="11" fill="#F23645"/>
<rect x="1069" y="317" width="1" height="25" fill="#089981"/>
<rect x="1067" y="317" width="5" height="5" fill="#089981"/>
<rect x="1075" y="317" width="1" height="23" fill="#F23645"/>
<rect x="1073" y="317" width="5" height="11" fill="#F23645"/>
<rect x="1081" y="290" width="1" height="49" fill="#089981"/>
<rect x="1079" y="304" width="5" height="24" fill="#089981"/>
<rect x="1087" y="284" width="1" height="53" fill="#F23645"/>
<rect x="1085" y="304" width="5" height="29" fill="#F23645"/>
<rect x="1093" y="259" width="1" height="76" fill="#089981"/>
<rect x="1091" y="263" width="5" height="70" fill="#089981"/>
<rect x="1099" y="257" width="1" height="37" fill="#F23645"/>
<rect x="1097" y="263" width="5" height="19" fill="#F23645"/>
<rect x="1105" y="220" width="1" height="66" fill="#089981"/>
<rect x="1103" y="240" width="5" height="42" fill="#089981"/>
<rect x="1111" y="222" width="1" height="21" fill="#089981"/>
<rect x="1109" y="231" width="5" height="10" fill="#089981"/>
<rect x="1117" y="217" width="1" height="36" fill="#F23645"/>
<rect x="1115" y="231" width="5" height="9" fill="#F23645"/>
<rect x="1123" y="226" width="1" height="22" fill="#F23645"/>
<rect x="1121" y="239" width="5" height="9" fill="#F23645"/>
<rect x="1129" y="241" width="1" height="38" fill="#F23645"/>
<rect x="1127" y="247" width="5" height="31" fill="#F23645"/>
<rect x="1135" y="270" width="1" height="28" fill="#089981"/>
<rect x="1133" y="272" width="5" height="6" fill="#089981"/>
<rect x="1140" y="272" width="1" height="19" fill="#F23645"/>
<rect x="1138" y="272" width="5" height="16" fill="#F23645"/>
<rect x="1146" y="277" width="1" height="19" fill="#089981"/>
<rect x="1144" y="279" width="5" height="9" fill="#089981"/>
<rect x="1152" y="259" width="1" height="26" fill="#089981"/>
<rect x="1150" y="264" width="5" height="16" fill="#089981"/>
<rect x="1158" y="257" width="1" height="9" fill="#089981"/>
<rect x="1156" y="262" width="5" height="3" fill="#089981"/>
<rect x="1164" y="256" width="1" height="18" fill="#F23645"/>
<rect x="1162" y="262" width="5" height="12" fill="#F23645"/>
<rect x="1170" y="257" width="1" height="18" fill="#089981"/>
<rect x="1168" y="262" width="5" height="12" fill="#089981"/>
<rect x="1176" y="251" width="1" height="15" fill="#F23645"/>
<rect x="1174" y="262" width="5" height="1" fill="#F23645"/>
<rect x="1182" y="260" width="1" height="25" fill="#F23645"/>
<rect x="1180" y="262" width="5" height="15" fill="#F23645"/>
<rect x="1188" y="272" width="1" height="12" fill="#089981"/>
<rect x="1186" y="274" width="5" height="3" fill="#089981"/>
<rect x="1194" y="259" width="1" height="19" fill="#089981"/>
<rect x="1192" y="262" width="5" height="13" fill="#089981"/>
<rect x="1200" y="261" width="1" height="57" fill="#F23645"/>
<rect x="1198" y="262" width="5" height="56" fill="#F23645"/>
<rect x="1206" y="306" width="1" height="48" fill="#F23645"/>
<rect x="1204" y="317" width="5" height="27" fill="#F23645"/>
<rect x="1212" y="343" width="1" height="83" fill="#F23645"/>
<rect x="1210" y="343" width="5" height="58" fill="#F23645"/>
<rect x="1218" y="391" width="1" height="28" fill="#F23645"/>
<rect x="1216" y="400" width="5" height="8" fill="#F23645"/>
<rect x="1224" y="359" width="1" height="50" fill="#089981"/>
<rect x="1222" y="369" width="5" height="40" fill="#089981"/>
<rect x="1230" y="368" width="1" height="44" fill="#F23645"/>
<rect x="1228" y="369" width="5" height="30" fill="#F23645"/>
<rect x="1236" y="314" width="1" height="85" fill="#089981"/>
<rect x="1234" y="343" width="5" height="56" fill="#089981"/>
<rect x="1242" y="324" width="1" height="34" fill="#089981"/>
<rect x="1240" y="332" width="5" height="12" fill="#089981"/>
<rect x="1248" y="322" width="1" height="17" fill="#F23645"/>
<rect x="1246" y="332" width="5" height="5" fill="#F23645"/>
<rect x="1254" y="330" width="1" height="15" fill="#F23645"/>
<rect x="1252" y="336" width="5" height="6" fill="#F23645"/>
<rect x="1260" y="327" width="1" height="29" fill="#F23645"/>
<rect x="1258" y="341" width="5" height="3" fill="#F23645"/>
<rect x="1266" y="343" width="1" height="31" fill="#F23645"/>
<rect x="1264" y="343" width="5" height="19" fill="#F23645"/>
<rect x="1272" y="357" width="1" height="59" fill="#F23645"/>
<rect x="1270" y="361" width="5" height="37" fill="#F23645"/>
<rect x="1278" y="369" width="1" height="29" fill="#089981"/>
<rect x="1276" y="370" width="5" height="28" fill="#089981"/>
<rect x="1284" y="355" width="1" height="22" fill="#089981"/>
<rect x="1282" y="357" width="5" height="14" fill="#089981"/>
<rect x="1289" y="353" width="1" height="22" fill="#F23645"/>
<rect x="1287" y="357" width="5" height="12" fill="#F23645"/>
<rect x="1295" y="365" width="1" height="30" fill="#F23645"/>
<rect x="1293" y="368" width="5" height="18" fill="#F23645"/>
<rect x="1301" y="359" width="1" height="50" fill="#089981"/>
<rect x="1299" y="372" width="5" height="14" fill="#089981"/>
<rect x="1307" y="344" width="1" height="46" fill="#F23645"/>
<rect x="1305" y="372" width="5" height="8" fill="#F23645"/>
<rect x="1313" y="347" width="1" height="42" fill="#089981"/>
<rect x="1311" y="350" width="5" height="30" fill="#089981"/></g>
<defs><linearGradient id="gOS" x1="0" y1="702.0" x2="0" y2="774.3" gradientUnits="userSpaceOnUse"><stop offset="0" stop-color="#FF0000" stop-opacity="0"/><stop offset="1" stop-color="#FF0000" stop-opacity="0.6"/></linearGradient>
<linearGradient id="gOB" x1="0" y1="557.4" x2="0" y2="485.1" gradientUnits="userSpaceOnUse"><stop offset="0" stop-color="#00FF00" stop-opacity="0"/><stop offset="1" stop-color="#00FF00" stop-opacity="0.35"/></linearGradient>
<clipPath id="cOS"><rect x="0" y="702.0" width="1570" height="100"/></clipPath><clipPath id="cOB"><rect x="0" y="500" width="1570" height="57.4"/></clipPath></defs>
<polygon points="12.0,702.0 12.0,618.9 20.0,611.8 26.0,616.4 32.0,612.8 38.0,619.3 44.0,618.8 50.0,615.5 56.0,610.2 62.0,627.4 68.0,640.3 74.0,656.2 80.0,665.1 86.0,666.3 92.0,668.2 97.0,646.1 103.0,665.3 109.0,627.5 115.0,656.5 121.0,645.7 127.0,652.3 133.0,647.4 139.0,651.0 145.0,640.9 151.0,637.8 157.0,624.5 163.0,623.0 169.0,633.5 175.0,622.2 181.0,627.1 187.0,637.8 193.0,643.0 199.0,645.7 205.0,621.2 211.0,610.8 217.0,613.7 223.0,658.6 229.0,624.1 235.0,640.2 241.0,647.2 246.0,641.5 252.0,624.5 258.0,617.0 264.0,640.9 270.0,647.5 276.0,639.3 282.0,643.6 288.0,646.2 294.0,638.3 300.0,637.3 306.0,635.2 312.0,619.5 318.0,604.4 324.0,583.4 330.0,589.2 336.0,589.2 342.0,594.5 348.0,585.1 354.0,611.2 360.0,595.9 366.0,560.5 372.0,545.8 378.0,555.0 384.0,561.2 390.0,563.4 395.0,560.7 401.0,558.1 407.0,551.2 413.0,543.6 419.0,558.6 425.0,563.2 431.0,576.7 437.0,570.0 443.0,566.8 449.0,568.9 455.0,556.3 461.0,569.8 467.0,567.5 473.0,544.7 479.0,567.5 485.0,568.0 491.0,571.5 497.0,583.0 503.0,607.6 509.0,690.8 515.0,709.9 521.0,711.1 527.0,716.1 533.0,717.4 539.0,718.8 544.0,719.2 550.0,734.2 556.0,702.2 562.0,703.5 568.0,712.9 574.0,704.0 580.0,690.8 586.0,722.3 592.0,708.0 598.0,688.6 604.0,667.1 610.0,659.7 616.0,680.3 622.0,656.8 628.0,666.0 634.0,675.2 640.0,675.2 646.0,656.7 652.0,657.7 658.0,654.7 664.0,651.3 670.0,650.2 676.0,659.4 682.0,665.1 688.0,644.6 693.0,647.9 699.0,654.8 705.0,665.8 711.0,683.4 717.0,722.9 723.0,724.4 729.0,729.0 735.0,667.2 741.0,658.0 747.0,652.7 753.0,633.1 759.0,640.1 765.0,634.1 771.0,628.9 777.0,622.1 783.0,626.4 789.0,641.5 795.0,590.3 801.0,565.5 807.0,562.0 813.0,598.2 819.0,592.9 825.0,606.0 831.0,612.8 837.0,608.7 842.0,623.4 848.0,606.0 854.0,601.6 860.0,587.5 866.0,588.1 872.0,584.9 878.0,573.0 884.0,613.2 890.0,646.2 896.0,636.7 902.0,638.8 908.0,644.4 914.0,636.8 920.0,628.3 926.0,649.5 932.0,683.3 938.0,614.0 944.0,606.5 950.0,652.0 956.0,638.8 962.0,617.2 968.0,619.0 974.0,627.7 980.0,625.7 986.0,639.5 991.0,643.8 997.0,645.6 1003.0,631.6 1009.0,635.1 1015.0,624.2 1021.0,626.2 1027.0,623.5 1033.0,637.1 1039.0,624.5 1045.0,639.7 1051.0,644.9 1057.0,650.1 1063.0,656.0 1069.0,652.0 1075.0,658.5 1081.0,639.8 1087.0,657.7 1093.0,612.4 1099.0,623.9 1105.0,602.4 1111.0,598.1 1117.0,603.9 1123.0,609.4 1129.0,629.6 1135.0,626.2 1140.0,636.4 1146.0,630.5 1152.0,620.1 1158.0,618.8 1164.0,627.8 1170.0,619.2 1176.0,619.8 1182.0,631.9 1188.0,629.6 1194.0,618.9 1200.0,662.7 1206.0,678.1 1212.0,704.1 1218.0,706.8 1224.0,672.9 1230.0,686.4 1236.0,647.4 1242.0,640.7 1248.0,643.3 1254.0,646.0 1260.0,647.2 1266.0,658.2 1272.0,677.4 1278.0,655.8 1284.0,646.3 1289.0,653.2 1295.0,663.1 1301.0,652.0 1307.0,656.9 1313.0,633.9 1313.0,702.0" fill="url(#gOS)" clip-path="url(#cOS)"/>
<polygon points="12.0,557.4 12.0,618.9 20.0,611.8 26.0,616.4 32.0,612.8 38.0,619.3 44.0,618.8 50.0,615.5 56.0,610.2 62.0,627.4 68.0,640.3 74.0,656.2 80.0,665.1 86.0,666.3 92.0,668.2 97.0,646.1 103.0,665.3 109.0,627.5 115.0,656.5 121.0,645.7 127.0,652.3 133.0,647.4 139.0,651.0 145.0,640.9 151.0,637.8 157.0,624.5 163.0,623.0 169.0,633.5 175.0,622.2 181.0,627.1 187.0,637.8 193.0,643.0 199.0,645.7 205.0,621.2 211.0,610.8 217.0,613.7 223.0,658.6 229.0,624.1 235.0,640.2 241.0,647.2 246.0,641.5 252.0,624.5 258.0,617.0 264.0,640.9 270.0,647.5 276.0,639.3 282.0,643.6 288.0,646.2 294.0,638.3 300.0,637.3 306.0,635.2 312.0,619.5 318.0,604.4 324.0,583.4 330.0,589.2 336.0,589.2 342.0,594.5 348.0,585.1 354.0,611.2 360.0,595.9 366.0,560.5 372.0,545.8 378.0,555.0 384.0,561.2 390.0,563.4 395.0,560.7 401.0,558.1 407.0,551.2 413.0,543.6 419.0,558.6 425.0,563.2 431.0,576.7 437.0,570.0 443.0,566.8 449.0,568.9 455.0,556.3 461.0,569.8 467.0,567.5 473.0,544.7 479.0,567.5 485.0,568.0 491.0,571.5 497.0,583.0 503.0,607.6 509.0,690.8 515.0,709.9 521.0,711.1 527.0,716.1 533.0,717.4 539.0,718.8 544.0,719.2 550.0,734.2 556.0,702.2 562.0,703.5 568.0,712.9 574.0,704.0 580.0,690.8 586.0,722.3 592.0,708.0 598.0,688.6 604.0,667.1 610.0,659.7 616.0,680.3 622.0,656.8 628.0,666.0 634.0,675.2 640.0,675.2 646.0,656.7 652.0,657.7 658.0,654.7 664.0,651.3 670.0,650.2 676.0,659.4 682.0,665.1 688.0,644.6 693.0,647.9 699.0,654.8 705.0,665.8 711.0,683.4 717.0,722.9 723.0,724.4 729.0,729.0 735.0,667.2 741.0,658.0 747.0,652.7 753.0,633.1 759.0,640.1 765.0,634.1 771.0,628.9 777.0,622.1 783.0,626.4 789.0,641.5 795.0,590.3 801.0,565.5 807.0,562.0 813.0,598.2 819.0,592.9 825.0,606.0 831.0,612.8 837.0,608.7 842.0,623.4 848.0,606.0 854.0,601.6 860.0,587.5 866.0,588.1 872.0,584.9 878.0,573.0 884.0,613.2 890.0,646.2 896.0,636.7 902.0,638.8 908.0,644.4 914.0,636.8 920.0,628.3 926.0,649.5 932.0,683.3 938.0,614.0 944.0,606.5 950.0,652.0 956.0,638.8 962.0,617.2 968.0,619.0 974.0,627.7 980.0,625.7 986.0,639.5 991.0,643.8 997.0,645.6 1003.0,631.6 1009.0,635.1 1015.0,624.2 1021.0,626.2 1027.0,623.5 1033.0,637.1 1039.0,624.5 1045.0,639.7 1051.0,644.9 1057.0,650.1 1063.0,656.0 1069.0,652.0 1075.0,658.5 1081.0,639.8 1087.0,657.7 1093.0,612.4 1099.0,623.9 1105.0,602.4 1111.0,598.1 1117.0,603.9 1123.0,609.4 1129.0,629.6 1135.0,626.2 1140.0,636.4 1146.0,630.5 1152.0,620.1 1158.0,618.8 1164.0,627.8 1170.0,619.2 1176.0,619.8 1182.0,631.9 1188.0,629.6 1194.0,618.9 1200.0,662.7 1206.0,678.1 1212.0,704.1 1218.0,706.8 1224.0,672.9 1230.0,686.4 1236.0,647.4 1242.0,640.7 1248.0,643.3 1254.0,646.0 1260.0,647.2 1266.0,658.2 1272.0,677.4 1278.0,655.8 1284.0,646.3 1289.0,653.2 1295.0,663.1 1301.0,652.0 1307.0,656.9 1313.0,633.9 1313.0,557.4" fill="url(#gOB)" clip-path="url(#cOB)"/>
<polyline points="12.0,650.3 14.0,650.1 20.0,645.8 26.0,640.3 32.0,636.3 38.0,633.7 44.0,629.7 50.0,626.8 56.0,623.4 62.0,621.4 68.0,622.0 74.0,623.6 80.0,626.5 86.0,629.1 92.0,631.9 97.0,633.9 103.0,637.7 109.0,638.5 115.0,641.6 121.0,643.5 127.0,645.9 133.0,648.2 139.0,651.1 145.0,652.0 151.0,651.9 157.0,649.6 163.0,646.6 169.0,644.3 175.0,641.0 181.0,639.6 187.0,637.7 193.0,638.8 199.0,638.0 205.0,636.3 211.0,633.3 217.0,630.9 223.0,631.4 229.0,630.2 235.0,630.4 241.0,632.0 246.0,633.3 252.0,632.7 258.0,632.3 264.0,633.3 270.0,634.0 276.0,633.7 282.0,633.6 288.0,635.4 294.0,637.3 300.0,639.0 306.0,637.3 312.0,637.0 318.0,634.5 324.0,629.9 330.0,626.2 336.0,623.6 342.0,622.0 348.0,618.1 354.0,615.5 360.0,612.4 366.0,606.4 372.0,599.3 378.0,593.3 384.0,587.9 390.0,582.7 395.0,578.5 401.0,575.2 407.0,572.9 413.0,569.7 419.0,567.5 425.0,565.2 431.0,564.6 437.0,561.7 443.0,559.6 449.0,560.2 455.0,561.0 461.0,562.0 467.0,562.5 473.0,561.1 479.0,561.6 485.0,562.3 491.0,563.8 497.0,566.6 503.0,570.1 509.0,579.2 515.0,588.7 521.0,598.8 527.0,609.5 533.0,620.1 539.0,631.7 544.0,642.4 550.0,654.3 556.0,665.5 562.0,675.2 568.0,685.6 574.0,695.0 580.0,702.7 586.0,710.9 592.0,712.2 598.0,710.6 604.0,707.5 610.0,703.5 616.0,700.8 622.0,696.4 628.0,692.6 634.0,688.4 640.0,686.5 646.0,683.1 652.0,679.2 658.0,675.6 664.0,672.8 670.0,667.7 676.0,664.2 682.0,662.5 688.0,660.9 693.0,660.1 699.0,658.3 705.0,658.9 711.0,660.1 717.0,663.5 723.0,667.1 729.0,672.2 735.0,672.9 741.0,673.1 747.0,673.2 753.0,672.0 759.0,670.6 765.0,668.4 771.0,667.3 777.0,665.5 783.0,663.4 789.0,661.7 795.0,655.0 801.0,643.8 807.0,632.2 813.0,622.9 819.0,617.6 825.0,613.8 831.0,611.0 837.0,609.3 842.0,608.1 848.0,606.0 854.0,604.1 860.0,601.6 866.0,598.9 872.0,594.8 878.0,593.6 884.0,597.0 890.0,603.0 896.0,605.8 902.0,609.1 908.0,611.8 914.0,613.5 920.0,614.9 926.0,616.8 932.0,622.3 938.0,623.2 944.0,624.5 950.0,629.1 956.0,633.0 962.0,636.1 968.0,636.5 974.0,635.2 980.0,634.4 986.0,634.5 991.0,634.4 997.0,635.1 1003.0,635.3 1009.0,634.3 1015.0,630.1 1021.0,630.9 1027.0,632.1 1033.0,631.1 1039.0,630.1 1045.0,631.7 1051.0,633.5 1057.0,635.1 1063.0,637.3 1069.0,638.2 1075.0,639.2 1081.0,638.8 1087.0,640.7 1093.0,639.0 1099.0,639.0 1105.0,637.3 1111.0,635.5 1117.0,633.1 1123.0,632.1 1129.0,631.3 1135.0,630.0 1140.0,629.0 1146.0,627.2 1152.0,624.9 1158.0,622.1 1164.0,621.2 1170.0,618.5 1176.0,619.0 1182.0,619.6 1188.0,621.5 1194.0,623.0 1200.0,627.2 1206.0,632.1 1212.0,637.4 1218.0,643.2 1224.0,645.8 1230.0,649.8 1236.0,651.7 1242.0,653.3 1248.0,654.4 1254.0,656.3 1260.0,658.3 1266.0,660.2 1272.0,663.6 1278.0,666.2 1284.0,665.1 1289.0,663.3 1295.0,660.3 1301.0,656.4 1307.0,655.3 1313.0,651.5" fill="none" stroke="#FDD835" stroke-opacity="1" stroke-width="1.2" stroke-linejoin="round" stroke-linecap="round"/>
<polyline points="12.0,615.0 14.0,618.9 20.0,611.8 26.0,616.4 32.0,612.8 38.0,619.3 44.0,618.8 50.0,615.5 56.0,610.2 62.0,627.4 68.0,640.3 74.0,656.2 80.0,665.1 86.0,666.3 92.0,668.2 97.0,646.1 103.0,665.3 109.0,627.5 115.0,656.5 121.0,645.7 127.0,652.3 133.0,647.4 139.0,651.0 145.0,640.9 151.0,637.8 157.0,624.5 163.0,623.0 169.0,633.5 175.0,622.2 181.0,627.1 187.0,637.8 193.0,643.0 199.0,645.7 205.0,621.2 211.0,610.8 217.0,613.7 223.0,658.6 229.0,624.1 235.0,640.2 241.0,647.2 246.0,641.5 252.0,624.5 258.0,617.0 264.0,640.9 270.0,647.5 276.0,639.3 282.0,643.6 288.0,646.2 294.0,638.3 300.0,637.3 306.0,635.2 312.0,619.5 318.0,604.4 324.0,583.4 330.0,589.2 336.0,589.2 342.0,594.5 348.0,585.1 354.0,611.2 360.0,595.9 366.0,560.5 372.0,545.8 378.0,555.0 384.0,561.2 390.0,563.4 395.0,560.7 401.0,558.1 407.0,551.2 413.0,543.6 419.0,558.6 425.0,563.2 431.0,576.7 437.0,570.0 443.0,566.8 449.0,568.9 455.0,556.3 461.0,569.8 467.0,567.5 473.0,544.7 479.0,567.5 485.0,568.0 491.0,571.5 497.0,583.0 503.0,607.6 509.0,690.8 515.0,709.9 521.0,711.1 527.0,716.1 533.0,717.4 539.0,718.8 544.0,719.2 550.0,734.2 556.0,702.2 562.0,703.5 568.0,712.9 574.0,704.0 580.0,690.8 586.0,722.3 592.0,708.0 598.0,688.6 604.0,667.1 610.0,659.7 616.0,680.3 622.0,656.8 628.0,666.0 634.0,675.2 640.0,675.2 646.0,656.7 652.0,657.7 658.0,654.7 664.0,651.3 670.0,650.2 676.0,659.4 682.0,665.1 688.0,644.6 693.0,647.9 699.0,654.8 705.0,665.8 711.0,683.4 717.0,722.9 723.0,724.4 729.0,729.0 735.0,667.2 741.0,658.0 747.0,652.7 753.0,633.1 759.0,640.1 765.0,634.1 771.0,628.9 777.0,622.1 783.0,626.4 789.0,641.5 795.0,590.3 801.0,565.5 807.0,562.0 813.0,598.2 819.0,592.9 825.0,606.0 831.0,612.8 837.0,608.7 842.0,623.4 848.0,606.0 854.0,601.6 860.0,587.5 866.0,588.1 872.0,584.9 878.0,573.0 884.0,613.2 890.0,646.2 896.0,636.7 902.0,638.8 908.0,644.4 914.0,636.8 920.0,628.3 926.0,649.5 932.0,683.3 938.0,614.0 944.0,606.5 950.0,652.0 956.0,638.8 962.0,617.2 968.0,619.0 974.0,627.7 980.0,625.7 986.0,639.5 991.0,643.8 997.0,645.6 1003.0,631.6 1009.0,635.1 1015.0,624.2 1021.0,626.2 1027.0,623.5 1033.0,637.1 1039.0,624.5 1045.0,639.7 1051.0,644.9 1057.0,650.1 1063.0,656.0 1069.0,652.0 1075.0,658.5 1081.0,639.8 1087.0,657.7 1093.0,612.4 1099.0,623.9 1105.0,602.4 1111.0,598.1 1117.0,603.9 1123.0,609.4 1129.0,629.6 1135.0,626.2 1140.0,636.4 1146.0,630.5 1152.0,620.1 1158.0,618.8 1164.0,627.8 1170.0,619.2 1176.0,619.8 1182.0,631.9 1188.0,629.6 1194.0,618.9 1200.0,662.7 1206.0,678.1 1212.0,704.1 1218.0,706.8 1224.0,672.9 1230.0,686.4 1236.0,647.4 1242.0,640.7 1248.0,643.3 1254.0,646.0 1260.0,647.2 1266.0,658.2 1272.0,677.4 1278.0,655.8 1284.0,646.3 1289.0,653.2 1295.0,663.1 1301.0,652.0 1307.0,656.9 1313.0,633.9" fill="none" stroke="#7E57C2" stroke-opacity="1" stroke-width="1.25" stroke-linejoin="round" stroke-linecap="round"/>
<line x1="12" y1="350.5" x2="1485" y2="350.5" stroke="#089981" stroke-width="1" stroke-dasharray="1 2" shape-rendering="crispEdges"/>
<text x="1494.84" y="79.6" fill="#131722" font-size="14" textLength="52.97" lengthAdjust="spacingAndGlyphs">3,700.00</text>
<text x="1494.84" y="131.6" fill="#131722" font-size="14" textLength="52.97" lengthAdjust="spacingAndGlyphs">3,600.00</text>
<text x="1494.84" y="182.6" fill="#131722" font-size="14" textLength="52.97" lengthAdjust="spacingAndGlyphs">3,500.00</text>
<text x="1494.84" y="234.6" fill="#131722" font-size="14" textLength="52.97" lengthAdjust="spacingAndGlyphs">3,400.00</text>
<text x="1494.84" y="285.6" fill="#131722" font-size="14" textLength="52.97" lengthAdjust="spacingAndGlyphs">3,300.00</text>
<text x="1494.84" y="336.6" fill="#131722" font-size="14" textLength="52.97" lengthAdjust="spacingAndGlyphs">3,200.00</text>
<text x="1494.84" y="388.6" fill="#131722" font-size="14" textLength="52.97" lengthAdjust="spacingAndGlyphs">3,100.00</text>
<text x="1494.84" y="439.6" fill="#131722" font-size="14" textLength="52.97" lengthAdjust="spacingAndGlyphs">3,000.00</text>
<text x="1494.67" y="491.6" fill="#131722" font-size="14" textLength="52.97" lengthAdjust="spacingAndGlyphs">2,900.00</text>
<clipPath id="rsiclip"><rect x="1486" y="518" width="72" height="240"/></clipPath>
<text x="1494.77" y="526" fill="#131722" font-size="14" textLength="34.05" lengthAdjust="spacingAndGlyphs" clip-path="url(#rsiclip)">80.00</text>
<text x="1494.64" y="562" fill="#131722" font-size="14" textLength="34.05" lengthAdjust="spacingAndGlyphs">70.00</text>
<text x="1494.67" y="598" fill="#131722" font-size="14" textLength="34.05" lengthAdjust="spacingAndGlyphs">60.00</text>
<text x="1494.81" y="635" fill="#131722" font-size="14" textLength="34.05" lengthAdjust="spacingAndGlyphs">50.00</text>
<text x="1495.04" y="671" fill="#131722" font-size="14" textLength="34.05" lengthAdjust="spacingAndGlyphs">40.00</text>
<text x="1494.84" y="707" fill="#131722" font-size="14" textLength="34.05" lengthAdjust="spacingAndGlyphs">30.00</text>
<text x="1494.67" y="743" fill="#131722" font-size="14" textLength="34.05" lengthAdjust="spacingAndGlyphs">20.00</text>
<text x="54.21" y="775.9" fill="#131722" font-size="14" textLength="15.41" lengthAdjust="spacingAndGlyphs">26</text>
<text x="161.52" y="775.9" fill="#131722" font-size="14" textLength="15.23" lengthAdjust="spacingAndGlyphs">29</text>
<text x="260.50" y="775.9" fill="#131722" font-size="14" font-weight="bold" textLength="31.62" lengthAdjust="spacingAndGlyphs">2025</text>
<text x="450.40" y="775.9" fill="#131722" font-size="14" textLength="8.90" lengthAdjust="spacingAndGlyphs">6</text>
<text x="557.93" y="775.9" fill="#131722" font-size="14" textLength="9.02" lengthAdjust="spacingAndGlyphs">9</text>
<text x="697.98" y="775.9" fill="#131722" font-size="14" textLength="15.13" lengthAdjust="spacingAndGlyphs">13</text>
<text x="805.37" y="775.9" fill="#131722" font-size="14" textLength="15.24" lengthAdjust="spacingAndGlyphs">16</text>
<text x="948.32" y="775.9" fill="#131722" font-size="14" textLength="15.23" lengthAdjust="spacingAndGlyphs">20</text>
<text x="1055.54" y="775.9" fill="#131722" font-size="14" textLength="14.65" lengthAdjust="spacingAndGlyphs">23</text>
<text x="1198.31" y="775.9" fill="#131722" font-size="14" textLength="15.42" lengthAdjust="spacingAndGlyphs">27</text>
<text x="1372.88" y="775.9" fill="#131722" font-size="14" textLength="23.37" lengthAdjust="spacingAndGlyphs">Feb</text>
<path d="M1486 259h65a2 2 0 0 1 2 2v15a2 2 0 0 1 -2 2h-65z" fill="#0000FF"/>
<text x="1494.84" y="273.4" fill="#fff" font-size="14" textLength="52.97" lengthAdjust="spacingAndGlyphs" fill-opacity="1">3,326.67</text>
<path d="M1486 291h65a2 2 0 0 1 2 2v15a2 2 0 0 1 -2 2h-65z" fill="#00FFFF"/>
<text x="1494.84" y="305.4" fill="#131722" font-size="14" textLength="52.97" lengthAdjust="spacingAndGlyphs" fill-opacity="1">3,265.61</text>
<path d="M1486 315h65a2 2 0 0 1 2 2v15a2 2 0 0 1 -2 2h-65z" fill="#FF7F00"/>
<text x="1494.84" y="329.4" fill="#fff" font-size="14" textLength="52.97" lengthAdjust="spacingAndGlyphs" fill-opacity="1">3,218.35</text>
<path d="M1486 341h46a2 2 0 0 1 2 2v15a2 2 0 0 1 -2 2h-46z" fill="#089981"/>
<text x="1494.33" y="355.4" fill="#fff" font-size="14" textLength="34.05" lengthAdjust="spacingAndGlyphs" fill-opacity="0.75">17:46</text>
<path d="M1486 360h65a2 2 0 0 1 2 2v15a2 2 0 0 1 -2 2h-65z" fill="#FF0000"/>
<text x="1494.84" y="374.4" fill="#fff" font-size="14" textLength="52.97" lengthAdjust="spacingAndGlyphs" fill-opacity="1">3,163.00</text>
<path d="M1486 625h46a2 2 0 0 1 2 2v15a2 2 0 0 1 -2 2h-46z" fill="#7E57C2"/>
<text x="1495.04" y="639.4" fill="#fff" font-size="14" textLength="34.05" lengthAdjust="spacingAndGlyphs" fill-opacity="1">48.68</text>
<path d="M1486 644h46a2 2 0 0 1 2 2v14a2 2 0 0 1 -2 2h-46z" fill="#FDD835"/>
<text x="1495.04" y="657.9" fill="#131722" font-size="14" textLength="34.05" lengthAdjust="spacingAndGlyphs" fill-opacity="1">43.84</text>
<rect x="1490.5" y="8.5" width="64" height="27" rx="4" fill="#fff" stroke="#E0E3EB"/>
<text x="1499.50" y="26.9" fill="#131722" font-size="14" textLength="24.54" lengthAdjust="spacingAndGlyphs">USD</text>
<text x="19.46" y="25" fill="#131722" font-size="14" textLength="59.84" lengthAdjust="spacingAndGlyphs">Ethereum</text>
<text x="83.70" y="25" fill="#131722" font-size="14" textLength="4.91" lengthAdjust="spacingAndGlyphs">/</text>
<text x="93.59" y="25" fill="#131722" font-size="14" textLength="25.28" lengthAdjust="spacingAndGlyphs">U.S.</text>
<text x="122.76" y="25" fill="#131722" font-size="14" textLength="39.18" lengthAdjust="spacingAndGlyphs">Dollar,</text>
<text x="165.58" y="25" fill="#131722" font-size="14" textLength="19.81" lengthAdjust="spacingAndGlyphs">4h,</text>
<text x="189.23" y="25" fill="#131722" font-size="14" textLength="47.43" lengthAdjust="spacingAndGlyphs">CRYPTO</text>
<text x="243.45" y="25" fill="#131722" font-size="14" textLength="10.56" lengthAdjust="spacingAndGlyphs">O</text>
<text x="253.49" y="25" fill="#089981" font-size="14" textLength="52.01" lengthAdjust="spacingAndGlyphs">3,112.17</text>
<text x="313.08" y="25" fill="#131722" font-size="14" textLength="9.81" lengthAdjust="spacingAndGlyphs">H</text>
<text x="322.80" y="25" fill="#089981" font-size="14" textLength="52.24" lengthAdjust="spacingAndGlyphs">3,173.15</text>
<text x="382.28" y="25" fill="#131722" font-size="14" textLength="7.55" lengthAdjust="spacingAndGlyphs">L</text>
<text x="390.20" y="25" fill="#089981" font-size="14" textLength="52.38" lengthAdjust="spacingAndGlyphs">3,092.32</text>
<text x="449.62" y="25" fill="#131722" font-size="14" textLength="9.81" lengthAdjust="spacingAndGlyphs">C</text>
<text x="457.99" y="25" fill="#089981" font-size="14" textLength="53.30" lengthAdjust="spacingAndGlyphs">3,167.28</text>
<text x="518.74" y="25" fill="#089981" font-size="14" textLength="40.03" lengthAdjust="spacingAndGlyphs">+55.11</text>
<text x="563.41" y="25" fill="#089981" font-size="14" textLength="51.69" lengthAdjust="spacingAndGlyphs">(+1.77%)</text>
<text x="19.94" y="44" fill="#131722" font-size="14" textLength="25.29" lengthAdjust="spacingAndGlyphs">EMA</text>
<text x="48.58" y="44" fill="#131722" font-size="14" textLength="92.67" lengthAdjust="spacingAndGlyphs">20/50/100/200</text>
<text x="148.69" y="44" fill="#FF0000" font-size="14" textLength="53.13" lengthAdjust="spacingAndGlyphs">3,163.00</text>
<text x="209.19" y="44" fill="#FF7F00" font-size="14" textLength="53.16" lengthAdjust="spacingAndGlyphs">3,218.35</text>
<text x="270.10" y="44" fill="#00FFFF" font-size="14" textLength="52.04" lengthAdjust="spacingAndGlyphs">3,265.61</text>
<text x="330.29" y="44" fill="#0000FF" font-size="14" textLength="53.20" lengthAdjust="spacingAndGlyphs">3,326.67</text>
<text x="20.00" y="540" fill="#131722" font-size="14" textLength="18.09" lengthAdjust="spacingAndGlyphs">RSI</text>
<text x="42.95" y="540" fill="#131722" font-size="14" textLength="23.38" lengthAdjust="spacingAndGlyphs">(14,</text>
<text x="69.92" y="540" fill="#131722" font-size="14" textLength="36.23" lengthAdjust="spacingAndGlyphs">close)</text>
<text x="114.00" y="540" fill="#7E57C2" font-size="14" textLength="33.68" lengthAdjust="spacingAndGlyphs">48.68</text>
<text x="155.40" y="540" fill="#FDD835" font-size="14" textLength="33.78" lengthAdjust="spacingAndGlyphs">43.84</text>
<ellipse cx="201.55" cy="535.35" rx="3.1" ry="3.95" fill="none" stroke="#131722" stroke-width="1.15"/>
<line x1="199.0" y1="540.7" x2="204.15" y2="530.2" stroke="#131722" stroke-width="0.9"/>
<ellipse cx="218.55" cy="535.35" rx="3.1" ry="3.95" fill="none" stroke="#131722" stroke-width="1.15"/>
<line x1="216.0" y1="540.7" x2="221.15" y2="530.2" stroke="#131722" stroke-width="0.9"/>
<path d="M11 800.25h8.9v10.65h-4.6v-6.15h-4.3z" fill="#131722"/>
<circle cx="23.7" cy="802.6" r="2.3" fill="#131722"/>
<path d="M28.3 800.25h5l-4.5 10.65h-4.7z" fill="#131722"/>
<text x="37.68" y="811.1" fill="#131722" font-size="15" textLength="78.90" lengthAdjust="spacingAndGlyphs">TradingView</text>
</svg>
</body></html>
